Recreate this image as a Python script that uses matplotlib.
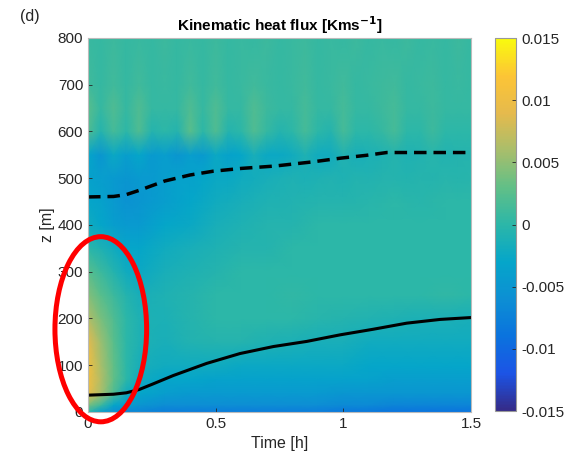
import matplotlib
matplotlib.use("Agg")
import matplotlib.pyplot as plt
import numpy as np
from matplotlib.colors import LinearSegmentedColormap
from matplotlib.patches import Ellipse

plt.rcParams['font.family'] = ['Liberation Sans', 'DejaVu Sans']

# parula-like colormap
parula = LinearSegmentedColormap.from_list("parula", [
    (0.00, (0.208, 0.166, 0.529)),
    (0.10, (0.110, 0.330, 0.900)),
    (0.20, (0.040, 0.450, 0.870)),
    (0.30, (0.050, 0.560, 0.830)),
    (0.40, (0.020, 0.650, 0.790)),
    (0.50, (0.170, 0.715, 0.660)),
    (0.60, (0.380, 0.750, 0.530)),
    (0.70, (0.660, 0.745, 0.420)),
    (0.80, (0.900, 0.730, 0.300)),
    (0.90, (0.990, 0.770, 0.210)),
    (1.00, (0.976, 0.983, 0.054)),
])

# lower part of the field (z 0..450 m), coarse in time
t_low = [0, 0.05, 0.1, 0.15, 0.2, 0.3, 0.4, 0.5, 0.6, 0.7, 0.8, 0.9, 1.0, 1.1, 1.2, 1.3, 1.4, 1.5]
z_low = [0, 15, 40, 70, 100, 150, 200, 250, 300, 350, 400, 450]
flux_low = [
    [0.000, -0.004, -0.006, -0.007, -0.007, -0.008, -0.008, -0.008, -0.008, -0.008, -0.008, -0.008, -0.0085, -0.0085, -0.009, -0.009, -0.009, -0.009],
    [0.004, 0.001, -0.003, -0.004, -0.005, -0.006, -0.006, -0.006, -0.006, -0.006, -0.006, -0.006, -0.0065, -0.0065, -0.007, -0.007, -0.007, -0.007],
    [0.0095, 0.006, 0.002, -0.002, -0.003, -0.004, -0.0045, -0.0045, -0.0045, -0.0045, -0.0045, -0.0045, -0.005, -0.005, -0.005, -0.005, -0.005, -0.005],
    [0.0105, 0.0065, 0.003, 0.000, -0.002, -0.003, -0.003, -0.0035, -0.0035, -0.0035, -0.0035, -0.0035, -0.0035, -0.0035, -0.004, -0.004, -0.004, -0.004],
    [0.0105, 0.006, 0.003, 0.000, -0.0015, -0.002, -0.002, -0.002, -0.0025, -0.0025, -0.0025, -0.0025, -0.0025, -0.003, -0.003, -0.003, -0.003, -0.003],
    [0.009, 0.0055, 0.0025, 0.000, -0.001, -0.0015, -0.0008, -0.0005, -0.0005, -0.001, -0.0012, -0.0015, -0.0015, -0.002, -0.002, -0.002, -0.002, -0.002],
    [0.0065, 0.004, 0.002, 0.000, -0.001, -0.0012, -0.0005, 0.000, 0.000, 0.000, 0.000, -0.0003, -0.0005, -0.0008, -0.001, -0.0012, -0.0012, -0.0015],
    [0.0045, 0.0025, 0.001, -0.0005, -0.0015, -0.001, -0.0005, 0.000, 0.000, 0.000, 0.0003, 0.000, 0.000, 0.000, 0.000, 0.000, 0.0003, 0.000],
    [0.0025, 0.001, -0.0005, -0.002, -0.0025, -0.0015, -0.001, -0.0005, 0.000, 0.000, 0.000, 0.000, 0.000, 0.000, 0.000, 0.000, 0.000, 0.000],
    [0.000, -0.001, -0.002, -0.003, -0.003, -0.002, -0.0015, -0.001, -0.0005, -0.0005, 0.000, 0.000, 0.000, 0.000, 0.000, 0.000, 0.000, 0.000],
    [-0.002, -0.003, -0.004, -0.0045, -0.0045, -0.003, -0.0025, -0.0015, -0.001, -0.0005, -0.0005, 0.000, 0.000, 0.000, 0.000, 0.000, 0.000, 0.000],
    [-0.003, -0.0035, -0.0045, -0.0055, -0.005, -0.004, -0.003, -0.002, -0.0015, -0.001, -0.0008, -0.0005, -0.0005, -0.0003, 0.000, -0.0003, 0.000, 0.000],
]

# upper part (z 450..800 m), every 0.05 h to show the streaks
t_up = np.linspace(0, 1.5, 31)
z_up = [450, 500, 550, 600, 650, 700, 800]
flux_up = [
    [-0.003, -0.0035, -0.0045, -0.0055, -0.005, -0.0045, -0.004, -0.0035, -0.003, -0.0025, -0.002, -0.0018, -0.0015, -0.0012, -0.001, -0.0009, -0.0008, -0.0006, -0.0005, -0.0005, -0.0005, -0.0004, -0.0003, -0.0002, 0.0, -0.0002, -0.0003, -0.0001, 0.0, 0.0, 0.0],
    [-0.0035, -0.004, -0.0045, -0.005, -0.0045, -0.0045, -0.004, -0.0035, -0.0035, -0.003, -0.0025, -0.0025, -0.002, -0.0018, -0.0015, -0.0012, -0.001, -0.0012, -0.001, -0.0008, -0.001, -0.0006, -0.0008, -0.0005, -0.0005, -0.0006, -0.0004, -0.0005, -0.0003, -0.0004, -0.0003],
    [-0.003, -0.005, -0.0025, -0.004, -0.003, -0.0045, -0.004, -0.005, -0.004, -0.0045, -0.0025, -0.0035, -0.003, -0.0015, -0.0025, -0.0025, -0.002, -0.001, -0.002, -0.002, -0.0008, -0.0015, -0.0012, -0.001, -0.0005, -0.001, -0.0008, -0.0003, -0.0008, -0.0005, -0.0005],
    [0.002, -0.0005, 0.0015, 0.0, 0.002, -0.0005, 0.0, -0.0005, 0.0025, 0.0, 0.002, -0.0005, 0.0, 0.002, 0.0005, -0.0005, 0.0, 0.0015, 0.0, -0.0005, 0.0015, 0.0, 0.0, 0.0005, 0.0015, 0.0, 0.0, 0.001, 0.0, 0.0, 0.0],
    [0.0025, 0.0005, 0.002, 0.0005, 0.002, 0.0005, 0.0005, 0.0005, 0.002, 0.0005, 0.002, 0.0005, 0.0005, 0.002, 0.001, 0.0005, 0.0005, 0.0015, 0.0005, 0.0005, 0.0015, 0.0005, 0.0005, 0.001, 0.0015, 0.0005, 0.0005, 0.001, 0.0005, 0.0005, 0.0005],
    [0.0012, 0.0005, 0.0012, 0.0005, 0.0012, 0.0005, 0.0008, 0.0005, 0.0012, 0.0005, 0.0012, 0.0005, 0.0008, 0.0012, 0.0008, 0.0005, 0.0008, 0.0012, 0.0005, 0.0008, 0.0012, 0.0005, 0.0008, 0.001, 0.0012, 0.0005, 0.0008, 0.001, 0.0005, 0.0008, 0.0005],
    [0.0008, 0.0005, 0.001, 0.0005, 0.0008, 0.0005, 0.001, 0.0005, 0.0008, 0.0005, 0.001, 0.0005, 0.0008, 0.0005, 0.001, 0.0005, 0.0008, 0.001, 0.0005, 0.0008, 0.0005, 0.001, 0.0005, 0.0008, 0.0005, 0.001, 0.0005, 0.0008, 0.0005, 0.001, 0.0005],
]

# boundary layer heights
t_top = [0, 0.1, 0.15, 0.2, 0.25, 0.3, 0.4, 0.49, 0.6, 0.73, 0.88, 0.99, 1.09, 1.17, 1.3, 1.5]
z_top = [460, 461, 465, 474, 484, 494, 507, 515, 521, 526, 535, 543, 549, 555, 555, 555]
t_sbl = [0, 0.1, 0.15, 0.2, 0.25, 0.334, 0.465, 0.595, 0.726, 0.857, 0.987, 1.117, 1.248, 1.379, 1.5]
z_sbl = [36, 38, 41, 48, 59, 78, 104, 125, 140, 151, 165, 177, 190, 198, 202]

fig = plt.figure(figsize=(5.76, 4.66), dpi=100)
ax = fig.add_axes([0.1528, 0.1159, 0.665, 0.8026])
cax = fig.add_axes([0.8594, 0.1180, 0.0365, 0.8000])

vmin, vmax = -0.015, 0.015
T, Z = np.meshgrid(t_low, z_low)
m = ax.pcolormesh(T, Z, np.array(flux_low), shading='gouraud', cmap=parula, vmin=vmin, vmax=vmax)
T2, Z2 = np.meshgrid(t_up, z_up)
ax.pcolormesh(T2, Z2, np.array(flux_up), shading='gouraud', cmap=parula, vmin=vmin, vmax=vmax)

ax.plot(t_top, z_top, color='black', lw=2.5, linestyle=(0, (3.6, 2.0)))
ax.plot(t_sbl, z_sbl, color='black', lw=2.2, solid_capstyle='round')

ell = Ellipse((0.05, 177), 0.359, 396, fill=False, edgecolor='red', lw=3.6, clip_on=False, zorder=5)
ax.add_patch(ell)

ax.set_xlim(0, 1.5)
ax.set_ylim(0, 800)
ax.set_xticks([0, 0.5, 1, 1.5])
ax.set_xticklabels(['0', '0.5', '1', '1.5'])
ax.set_yticks(range(0, 801, 100))
gray = '#262626'
ax.tick_params(direction='in', length=3, labelsize=11, colors=gray, width=0.6)
for s in ax.spines.values():
    s.set_color('#bbbbbb')
    s.set_linewidth(0.8)
ax.set_xlabel('Time [h]', fontsize=11.5, color=gray)
ax.set_ylabel('z [m]', fontsize=11.5, color=gray, labelpad=2)
ax.set_title('Kinematic heat flux [Kms$^{\\mathbf{-1}}$]', fontsize=11, fontweight='bold', pad=5)

cb = fig.colorbar(m, cax=cax)
cb.set_ticks([-0.015, -0.01, -0.005, 0, 0.005, 0.01, 0.015])
cb.set_ticklabels(['-0.015', '-0.01', '-0.005', '0', '0.005', '0.01', '0.015'])
cax.tick_params(direction='in', length=3, labelsize=11, colors=gray, width=0.6)
cb.outline.set_edgecolor('#999999')
cb.outline.set_linewidth(0.8)

fig.text(0.035, 0.955, '(d)', fontsize=11.5, color=gray)

plt.savefig('out.png', dpi=100)
